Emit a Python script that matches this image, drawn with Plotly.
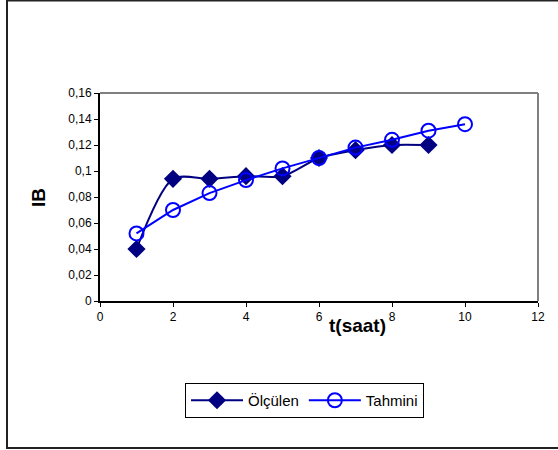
import plotly.graph_objects as go

# Measured (Ölçülen) and estimated (Tahmini) IB values over time
t_olculen = [1, 2, 3, 4, 5, 6, 7, 8, 9]
ib_olculen = [0.040, 0.094, 0.094, 0.096, 0.096, 0.110, 0.116, 0.120, 0.120]

t_tahmini = [1, 2, 3, 4, 5, 6, 7, 8, 9, 10]
ib_tahmini = [0.052, 0.070, 0.083, 0.093, 0.102, 0.110, 0.118, 0.124, 0.131, 0.136]

x_ticks = [0, 2, 4, 6, 8, 10, 12]
y_ticks = [0, 0.02, 0.04, 0.06, 0.08, 0.1, 0.12, 0.14, 0.16]
y_tick_text = ["0", "0,02", "0,04", "0,06", "0,08", "0,1", "0,12", "0,14", "0,16"]

W, H = 558, 450
ML, MR, MT, MB = 100, 20, 93, 149
plot_w = W - ML - MR
plot_h = H - MT - MB

FAMILY = "Liberation Sans, Arial, sans-serif"

fig = go.Figure()
fig.add_trace(go.Scatter(
    x=t_olculen, y=ib_olculen, name="Ölçülen",
    mode="lines+markers",
    line=dict(color="#000080", width=2, shape="spline", smoothing=0.8),
    marker=dict(symbol="diamond", size=14, color="#000080"),
))
fig.add_trace(go.Scatter(
    x=t_tahmini, y=ib_tahmini, name="Tahmini",
    mode="lines+markers",
    line=dict(color="#0000FF", width=2),
    marker=dict(symbol="circle-open", size=14, color="#0000FF", line=dict(width=2)),
))

font = dict(family=FAMILY, size=12, color="black")

fig.update_layout(
    width=W, height=H,
    margin=dict(l=ML, r=MR, t=MT, b=MB),
    paper_bgcolor="white", plot_bgcolor="white",
    font=font,
    showlegend=True,
    legend=dict(
        orientation="h",
        x=(185 - ML) / plot_w, y=(H - MB - 383) / plot_h,
        xanchor="left", yanchor="top",
        bordercolor="black", borderwidth=1,
        font=dict(family=FAMILY, size=15, color="black"),
        itemwidth=52,
        tracegroupgap=0,
    ),
    xaxis=dict(
        range=[0, 12], tickvals=x_ticks, ticks="outside", ticklen=4,
        tickcolor="black", showline=True, linecolor="black", linewidth=2,
        showgrid=False, zeroline=False, tickfont=font,
    ),
    yaxis=dict(
        range=[0, 0.16], tickvals=y_ticks, ticktext=y_tick_text,
        ticks="outside", ticklen=4, tickcolor="black",
        showline=True, linecolor="black", linewidth=2,
        showgrid=False, zeroline=False, tickfont=font,
    ),
    shapes=[
        # grey frame on top and right of plot area
        dict(type="line", xref="paper", yref="paper", x0=0, x1=1, y0=1, y1=1,
             line=dict(color="#808080", width=2)),
        dict(type="line", xref="paper", yref="paper", x0=1, x1=1, y0=0, y1=1,
             line=dict(color="#808080", width=2)),
        # outer chart border
        dict(type="rect", xref="paper", yref="paper",
             x0=(7 - ML) / plot_w, x1=(W + 5 - ML) / plot_w,
             y0=(H - MB - 448) / plot_h, y1=(H - MB - 0.5) / plot_h,
             line=dict(color="#222222", width=2), layer="below"),
    ],
    annotations=[
        dict(text="<b>t(saat)</b>", x=7.05, xref="x", y=(H - MB - 325) / plot_h, yref="paper",
             showarrow=False, xanchor="center", yanchor="middle",
             font=dict(family=FAMILY, size=19, color="black")),
        dict(text="<b>IB</b>", x=(38 - ML) / plot_w, xref="paper",
             y=(H - MB - 198) / plot_h, yref="paper", textangle=-90,
             showarrow=False, xanchor="center", yanchor="middle",
             font=dict(family=FAMILY, size=19, color="black")),
    ],
)

fig.write_html("out.html")
